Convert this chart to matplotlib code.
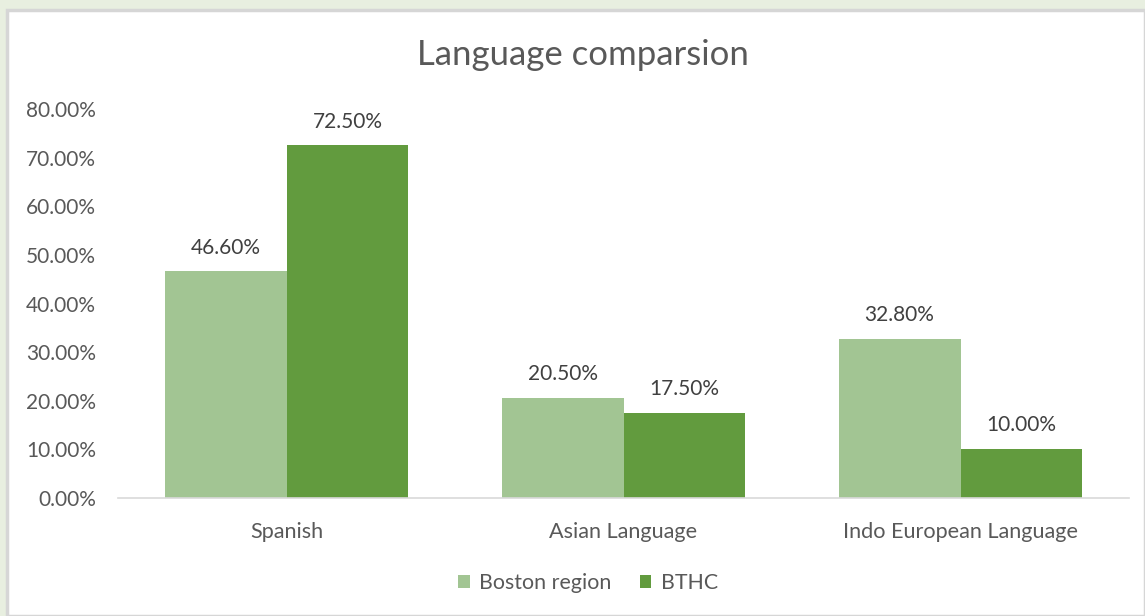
import matplotlib
matplotlib.use("Agg")
import matplotlib.pyplot as plt
from matplotlib.patches import Rectangle
from matplotlib.ticker import FuncFormatter
import numpy as np

categories = ["Spanish", "Asian Language", "Indo European Language"]
series_names = ["Boston region", "BTHC"]
boston = [0.466, 0.205, 0.328]
bthc = [0.725, 0.175, 0.100]
yticks = [0.0, 0.1, 0.2, 0.3, 0.4, 0.5, 0.6, 0.7, 0.8]

light = "#a2c593"
dark = "#629b3e"
txt = "#595959"

plt.rcParams['font.family'] = ['Lato', 'DejaVu Sans']

W, H = 1145, 616
fig = plt.figure(figsize=(W / 100, H / 100), dpi=100)
fig.patch.set_facecolor("#e8efe0")

# white chart area with gray border
fig.patches.append(Rectangle((7 / W, 0), 1 - 7 / W, 1 - 10 / H, transform=fig.transFigure,
                             facecolor="white", edgecolor="#d6d6d6", linewidth=2.5, zorder=-5))

ax = fig.add_axes([118 / W, (H - 498) / H, (1129 - 118) / W, (498 - 109) / H])
ax.set_facecolor("none")
ax.set_zorder(2)

x = np.arange(len(categories))
w = 0.362
b1 = ax.bar(x - w / 2, boston, w, color=light, label=series_names[0], zorder=2)
b2 = ax.bar(x + w / 2, bthc, w, color=dark, label=series_names[1], zorder=2)

fs = 15
for bars, vals in ((b1, boston), (b2, bthc)):
    for r, v in zip(bars, vals):
        ax.annotate(f"{v * 100:.2f}%", (r.get_x() + r.get_width() / 2, v),
                    xytext=(0, 10), textcoords="offset points", ha="center", va="bottom",
                    fontsize=fs, color="#404040")

ax.set_xlim(-0.5, 2.5)
ax.set_ylim(0, 0.8)
ax.set_yticks(yticks)
ax.yaxis.set_major_formatter(FuncFormatter(lambda v, p: f"{v * 100:.2f}%"))
ax.set_xticks(x)
ax.set_xticklabels(categories)
for s in ("top", "right", "left"):
    ax.spines[s].set_visible(False)
ax.spines["bottom"].set_color("#d9d9d9")
ax.spines["bottom"].set_linewidth(1.2)
ax.tick_params(axis="both", length=0, labelsize=fs, labelcolor=txt)
ax.tick_params(axis="x", labelsize=15.6)
ax.tick_params(axis="y", pad=16)
ax.tick_params(axis="x", pad=17)

fig.text(583 / W, 1 - 55 / H, "Language comparsion", ha="center", va="center",
         fontsize=25, color=txt)

fig.legend(handles=[b1, b2], labels=series_names, loc="center", bbox_to_anchor=(588 / W, 1 - 583 / H),
           ncol=2, frameon=False, fontsize=15.4, labelcolor=txt, handlelength=0.55, handleheight=0.55,
           handletextpad=0.45, columnspacing=1.3)

fig.savefig("out.png", dpi=100, facecolor=fig.get_facecolor())
